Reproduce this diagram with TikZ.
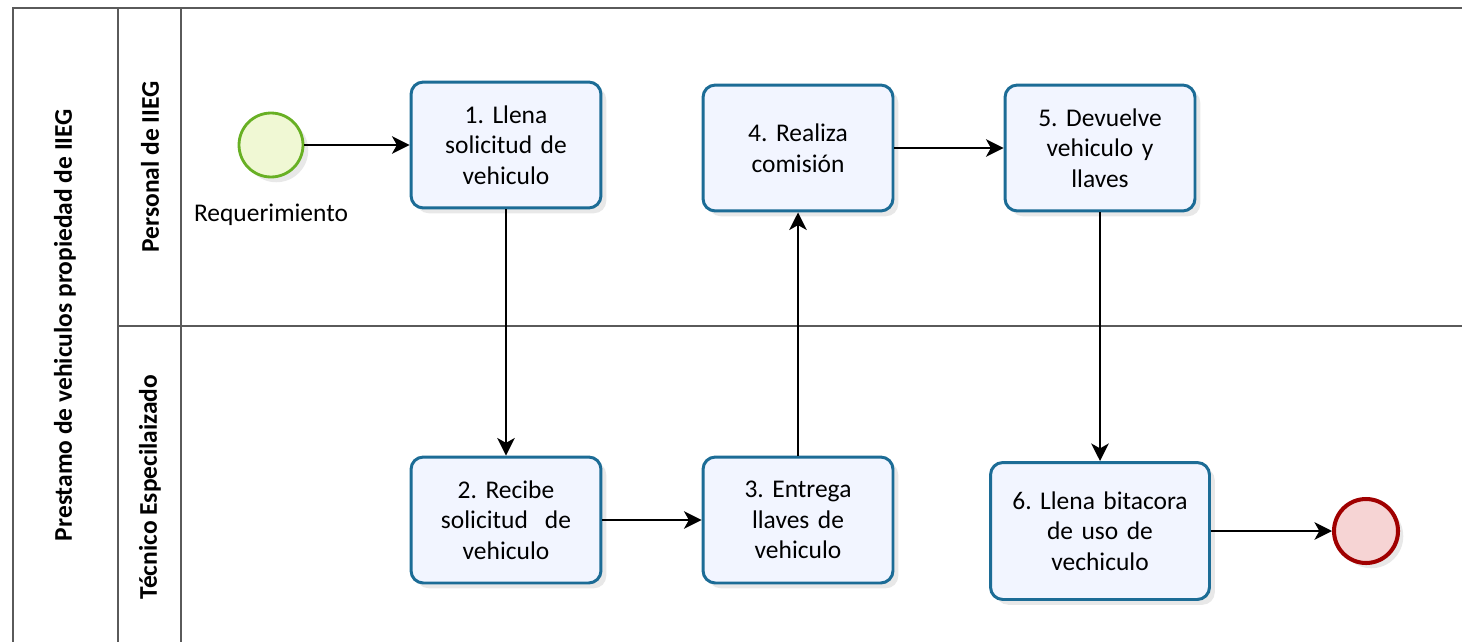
\documentclass[tikz,border=0pt]{standalone}
\usepackage{fontspec}
\setmainfont{Carlito}
\usepackage{tikz}
\usetikzlibrary{arrows.meta,shadows}
\frenchspacing

\definecolor{lanegray}{RGB}{90,90,90}
\definecolor{taskblue}{RGB}{28,108,150}
\definecolor{taskfill}{RGB}{242,245,255}
\definecolor{startgreen}{RGB}{104,176,36}
\definecolor{startfill}{RGB}{240,248,212}
\definecolor{endred}{RGB}{160,0,0}
\definecolor{endfill}{RGB}{246,212,212}

\tikzset{
	task/.style={draw=taskblue, line width=1.7pt, fill=taskfill, rounded corners=7pt,
		minimum width=3.8cm, minimum height=2.52cm, align=center, text width=3.3cm,
		font=\fontsize{14.5}{17.5}\selectfont,
		drop shadow={shadow xshift=3pt, shadow yshift=-3pt, opacity=0.18}},
	startev/.style={circle, draw=startgreen, line width=1.6pt, fill=startfill, minimum size=1.28cm,
		drop shadow={shadow xshift=3pt, shadow yshift=-3pt, opacity=0.18}},
	endev/.style={circle, draw=endred, line width=2.3pt, fill=endfill, minimum size=1.28cm,
		drop shadow={shadow xshift=3pt, shadow yshift=-3pt, opacity=0.18}},
	flow/.style={line width=1pt, -{Stealth[length=10pt,width=10pt,inset=2.8pt]}},
	lanelabel/.style={rotate=90, font=\bfseries\fontsize{14.5}{17.5}\selectfont}
}

\begin{document}
\begin{tikzpicture}[x=0.02cm, y=-0.02cm]
	\useasboundingbox (0,0) rectangle (1462,642);
	% pool and lanes
	\draw [lanegray, line width=1.1pt] (1462,8) -- (13,8) -- (13,642);
	\draw [lanegray, line width=1.1pt] (118,8) -- (118,642);
	\draw [lanegray, line width=1.1pt] (181,8) -- (181,642);
	\draw [lanegray, line width=1.1pt] (118,326) -- (1462,326);
	\node [lanelabel] (pool) at (65,325) {Prestamo de vehiculos propiedad de IIEG};
	\node [lanelabel] (lane1) at (150,167) {Personal de IIEG};
	\node [lanelabel] (lane2) at (150,487) {Técnico Especilaizado};
	% events
	\node [startev] (start) at (271,145) {};
	\node [font=\fontsize{14.5}{17.5}\selectfont] (req) at (271,215) {Requerimiento};
	\node [endev] (finish) at (1366,531) {};
	% tasks
	\node [task] (t1) at (506,145) {1. Llena\\ solicitud de\\ vehiculo};
	\node [task] (t2) at (506,520) {2. Recibe\\ solicitud\ \ de\\ vehiculo};
	\node [task] (t3) at (798,520) {3. Entrega\\ llaves de\\ vehiculo};
	\node [task] (t4) at (798,148) {4. Realiza\\ comisión};
	\node [task] (t5) at (1100,148) {5. Devuelve\\ vehiculo y\\ llaves};
	\node [task, minimum width=4.38cm, minimum height=2.74cm, text width=3.8cm] (t6) at (1100,531) {6. Llena bitacora\\ de uso de\\ vechiculo};
	% flows
	\draw [flow] (start) -- (t1);
	\draw [flow] (t1) -- (t2);
	\draw [flow] (t2) -- (t3);
	\draw [flow] (t3) -- (t4);
	\draw [flow] (t4) -- (t5);
	\draw [flow] (t5) -- (t6);
	\draw [flow] (t6) -- (finish);
\end{tikzpicture}
\end{document}
